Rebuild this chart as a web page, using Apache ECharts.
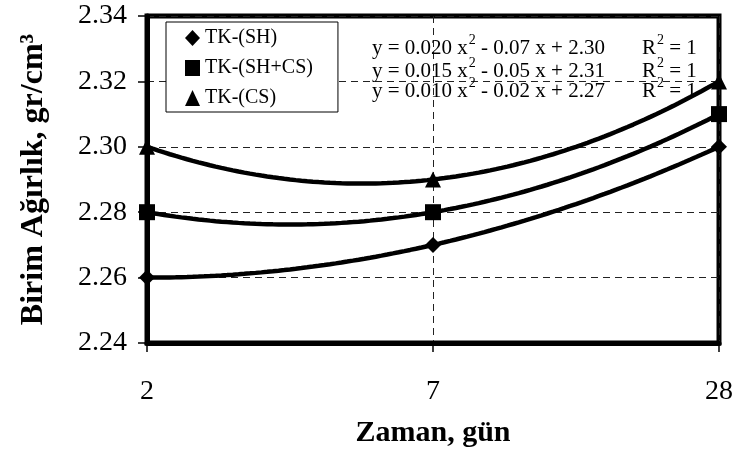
<!DOCTYPE html>
<html>
<head>
<meta charset="utf-8">
<script src="https://cdn.jsdelivr.net/npm/echarts@6/dist/echarts.min.js"></script>
<style>
  html, body { margin: 0; padding: 0; background: #fff; }
  #chart { width: 736px; height: 455px; }
</style>
</head>
<body>
<div id="chart"></div>
<script>
// data
var days = ['2', '7', '28'];
var names = ['TK-(SH)', 'TK-(SH+CS)', 'TK-(CS)'];
var valSH = [2.26, 2.27, 2.30];
var valSHCS = [2.28, 2.28, 2.31];
var valCS = [2.30, 2.29, 2.32];
var symbols = ['diamond', 'rect', 'triangle'];
// trendline equations as printed on the chart: [a, b, c]
var eqA = ['0.020', '0.015', '0.010'];
var eqB = ['0.07', '0.05', '0.02'];
var eqC = ['2.30', '2.31', '2.27'];

var FONT = 'Liberation Serif';
var chart = echarts.init(document.getElementById('chart'));

// 2nd order polynomial trendline (like the spreadsheet's) through the three points
function trend(vals) {
    var pts = [];
    for (var i = 0; i <= 100; i++) {
        var x = i / 50;
        var y = vals[0] * (x - 1) * (x - 2) / 2
              - vals[1] * x * (x - 2)
              + vals[2] * x * (x - 1) / 2;
        pts.push([x, y]);
    }
    return pts;
}
function pts(vals) {
    return vals.map(function (v, i) { return [i, v]; });
}

var allVals = [valSH, valSHCS, valCS];
var series = [];
allVals.forEach(function (vals, k) {
    series.push({
        name: names[k] + '_fit',
        type: 'line',
        data: trend(vals),
        showSymbol: false,
        lineStyle: { color: '#000', width: 4.5 },
        clip: false,
        z: 3,
        silent: true
    });
});
allVals.forEach(function (vals, k) {
    series.push({
        name: names[k],
        type: 'scatter',
        data: pts(vals),
        symbol: symbols[k],
        symbolSize: 16,
        itemStyle: { color: '#000', opacity: 1 },
        clip: false,
        z: 4
    });
});

var rich = {
    a: { fontFamily: FONT, fontSize: 21, color: '#000', lineHeight: 26, verticalAlign: 'bottom' },
    s: { fontFamily: FONT, fontSize: 14, color: '#000', lineHeight: 14, verticalAlign: 'top', padding: [0, 0, 0, 1] }
};
var graphics = [];
var eqY = [47, 70, 90];
eqA.forEach(function (a, i) {
    graphics.push({
        type: 'text', left: 372, top: eqY[i] - 14, z: 10,
        style: {
            text: '{a|y = ' + a + ' x}{s|2}{a| - ' + eqB[i] + ' x + ' + eqC[i] + '}',
            rich: rich
        }
    });
    graphics.push({
        type: 'text', left: 642, top: eqY[i] - 14, z: 10,
        style: { text: '{a|R}{s|2}{a| = 1}', rich: rich }
    });
});

option = {
    animation: false,
    backgroundColor: '#fff',
    textStyle: { fontFamily: FONT, color: '#000' },
    grid: {
        left: 147, right: 16, top: 16, bottom: 112,
        show: true, borderColor: '#000', borderWidth: 5
    },
    legend: {
        orient: 'vertical',
        left: 166, top: 22,
        padding: [6, 25, 4, 19],
        itemGap: 10,
        itemWidth: 15, itemHeight: 16,
        backgroundColor: '#fff',
        borderColor: '#000', borderWidth: 1,
        textStyle: { fontFamily: FONT, fontSize: 20, color: '#000' },
        data: names.map(function (n, i) { return { name: n, icon: symbols[i] }; })
    },
    xAxis: {
        type: 'value', min: 0, max: 2, interval: 1,
        name: 'Zaman, gün', nameLocation: 'middle', nameGap: 75,
        nameTextStyle: { fontFamily: FONT, fontSize: 30, fontWeight: 'bold', color: '#000' },
        axisLine: { lineStyle: { color: '#000', width: 5 } },
        axisTick: { length: 9, lineStyle: { color: '#000', width: 1.5 } },
        axisLabel: {
            margin: 35, fontFamily: FONT, fontSize: 28, color: '#000',
            formatter: function (v) { return days[v]; }
        },
        splitLine: { show: true, lineStyle: { color: '#222', width: 1, type: [7, 5] } }
    },
    yAxis: {
        type: 'value', min: 2.24, max: 2.34, interval: 0.02,
        name: 'Birim Ağırlık, gr/cm\u00b3', nameLocation: 'middle', nameGap: 97,
        nameTextStyle: { fontFamily: FONT, fontSize: 32, fontWeight: 'bold', color: '#000' },
        axisLine: { show: true, lineStyle: { color: '#000', width: 5 } },
        axisTick: { show: true, length: 9, lineStyle: { color: '#000', width: 1.5 } },
        axisLabel: {
            margin: 20, fontFamily: FONT, fontSize: 28, color: '#000',
            formatter: function (v) { return v.toFixed(2); }
        },
        splitLine: { show: true, lineStyle: { color: '#222', width: 1, type: [7, 5] } }
    },
    graphic: graphics,
    series: series
};

chart.setOption(option);
window.addEventListener('resize', chart.resize);
</script>
</body>
</html>
